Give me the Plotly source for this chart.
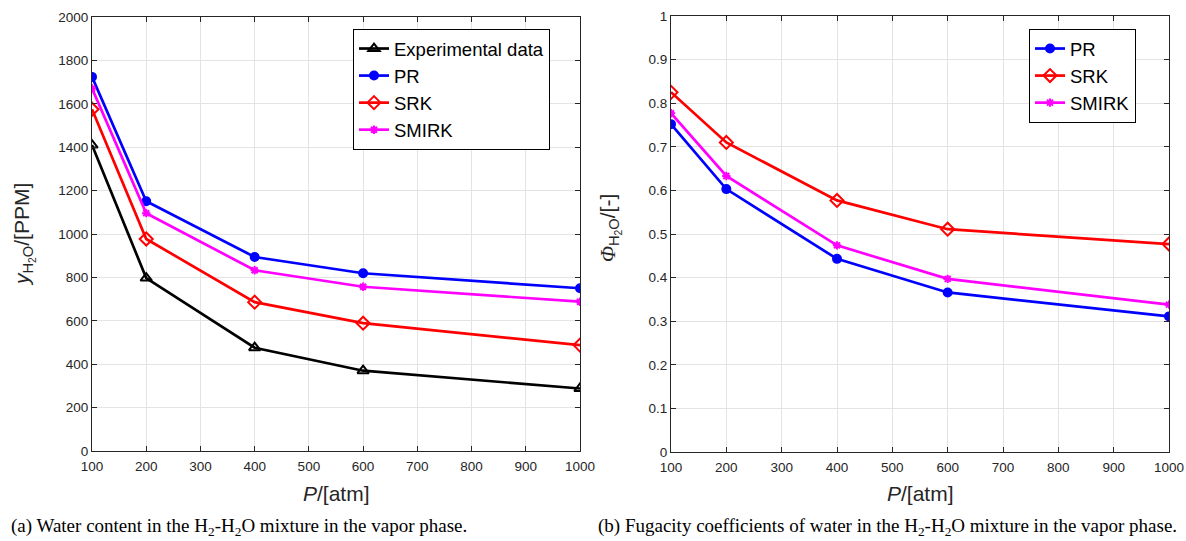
import plotly.graph_objects as go

pressure = [100, 200, 400, 600, 1000]

# (a) water content, PPM
exp_ppm = [1410, 797, 476, 370, 288]
pr_ppm = [1724, 1151, 894, 819, 750]
srk_ppm = [1575, 977, 686, 589, 488]
smirk_ppm = [1671, 1096, 833, 757, 688]

# (b) fugacity coefficients
pr_phi = [0.752, 0.603, 0.443, 0.366, 0.311]
srk_phi = [0.825, 0.710, 0.577, 0.511, 0.477]
smirk_phi = [0.777, 0.633, 0.474, 0.397, 0.338]

x_ticks = [100, 200, 300, 400, 500, 600, 700, 800, 900, 1000]

W, H = 1186, 541
AX = "#262626"
GRID = "#e3e3e3"
SANS = "Liberation Sans, Arial, sans-serif"
SERIF = "Liberation Serif, Times New Roman, serif"

fig = go.Figure()

def add(x, y, name, color, symbol, size, xa, ya, legend):
    marker = dict(symbol=symbol, size=size, color=color,
                  line=dict(color=color, width=2))
    fig.add_trace(go.Scatter(x=x, y=y, name=name, mode="lines+markers",
                             line=dict(color=color, width=2.7),
                             marker=marker, xaxis=xa, yaxis=ya,
                             legend=legend))

add(pressure, exp_ppm, "Experimental data", "black", "triangle-up-open", 10, "x", "y", "legend")
add(pressure, pr_ppm, "PR", "#0000ff", "circle", 8, "x", "y", "legend")
add(pressure, srk_ppm, "SRK", "#ff0000", "diamond-open", 10, "x", "y", "legend")
add(pressure, smirk_ppm, "SMIRK", "#ff00ff", "asterisk-open", 7, "x", "y", "legend")

add(pressure, pr_phi, "PR", "#0000ff", "circle", 8, "x2", "y2", "legend2")
add(pressure, srk_phi, "SRK", "#ff0000", "diamond-open", 10, "x2", "y2", "legend2")
add(pressure, smirk_phi, "SMIRK", "#ff00ff", "asterisk-open", 7, "x2", "y2", "legend2")

def px_x(p):
    return p / W

def px_y(p):
    return 1 - p / H

axis_common = dict(showline=True, linecolor=AX, linewidth=1, mirror="ticks",
                   ticks="inside", ticklen=5, tickcolor=AX, automargin=False,
                   showgrid=True, gridcolor=GRID, gridwidth=1, zeroline=False,
                   tickfont=dict(family=SANS, size=13.5, color=AX))

fig.update_layout(
    width=W, height=H, margin=dict(l=0, r=0, t=0, b=0, autoexpand=False),
    paper_bgcolor="white", plot_bgcolor="white",
    xaxis=dict(domain=[px_x(92), px_x(580)], range=[100, 1000], tickvals=x_ticks,
               anchor="y", ticklabelstandoff=3, **axis_common),
    yaxis=dict(domain=[px_y(451), px_y(17)], range=[0, 2000], dtick=200,
               anchor="x", **axis_common),
    xaxis2=dict(domain=[px_x(671), px_x(1169)], range=[100, 1000], tickvals=x_ticks,
                anchor="y2", ticklabelstandoff=3, **axis_common),
    yaxis2=dict(domain=[px_y(452), px_y(16)], range=[0, 1], dtick=0.1,
                tickformat="~g", anchor="x2", **axis_common),
    legend=dict(x=px_x(353), y=px_y(29), xanchor="left", yanchor="top",
                bordercolor="black", borderwidth=1, bgcolor="white",
                font=dict(family=SANS, size=18.5, color="black"),
                tracegroupgap=0, itemwidth=30),
    legend2=dict(x=px_x(1029), y=px_y(29), xanchor="left", yanchor="top",
                 bordercolor="black", borderwidth=1, bgcolor="white",
                 font=dict(family=SANS, size=18.5, color="black"),
                 tracegroupgap=0, itemwidth=30),
    showlegend=True,
)

ann = []
for cx in [(92 + 580) / 2, (671 + 1169) / 2]:
    ann.append(dict(x=px_x(cx), y=px_y(493), xref="paper", yref="paper",
                    text="<i>P</i>/[atm]", showarrow=False,
                    font=dict(family=SANS, size=21, color=AX),
                    xanchor="center", yanchor="middle"))
ann.append(dict(x=px_x(24), y=px_y(235), xref="paper", yref="paper",
                text="<i>y</i><sub>H<sub>2</sub>O</sub>/[PPM]", showarrow=False,
                textangle=-90, font=dict(family=SANS, size=21, color=AX),
                xanchor="center", yanchor="middle"))
ann.append(dict(x=px_x(610), y=px_y(228), xref="paper", yref="paper",
                text="<span style=\"font-family:'Liberation Serif'\"><i>Φ</i></span><sub>H<sub>2</sub>O</sub>/[-]",
                showarrow=False,
                textangle=-90, font=dict(family=SANS, size=21, color=AX),
                xanchor="center", yanchor="middle"))
ann.append(dict(x=px_x(9), y=px_y(527), xref="paper", yref="paper",
                text="(a) Water content in the H<sub>2</sub>-H<sub>2</sub>O mixture in the vapor phase.",
                showarrow=False, font=dict(family=SERIF, size=19, color="black"),
                xanchor="left", yanchor="middle"))
ann.append(dict(x=px_x(596), y=px_y(527), xref="paper", yref="paper",
                text="(b) Fugacity coefficients of water in the H<sub>2</sub>-H<sub>2</sub>O mixture in the vapor phase.",
                showarrow=False, font=dict(family=SERIF, size=19, color="black"),
                xanchor="left", yanchor="middle"))
fig.update_layout(annotations=ann)

fig.write_html("out.html")
